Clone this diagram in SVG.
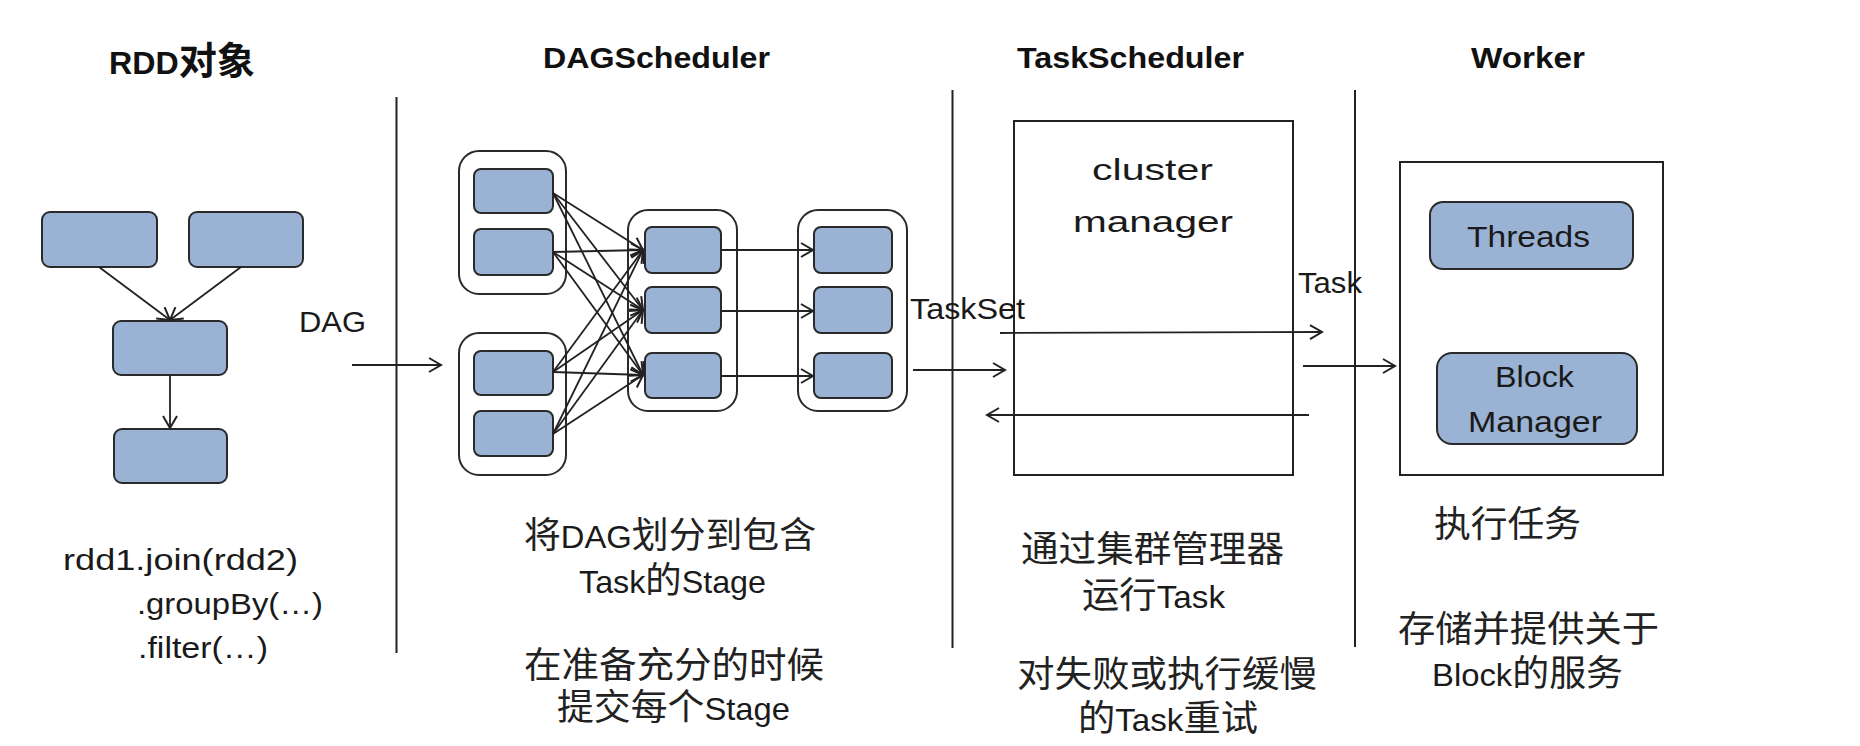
<svg xmlns="http://www.w3.org/2000/svg" width="1860" height="746" viewBox="0 0 1860 746">
<defs>
<marker id="arr" markerUnits="userSpaceOnUse" markerWidth="16" markerHeight="16" refX="13" refY="8" orient="auto">
<path d="M1,1 L13,8 L1,15" fill="none" stroke="#222" stroke-width="2"/>
</marker>
<style>
.bg{fill:#fff}
.blue{fill:#9ab2d4;stroke:#2a2a2a;stroke-width:2}
.grp{fill:#fff;stroke:#2a2a2a;stroke-width:2}
.frame{fill:#fff;stroke:#222;stroke-width:2}
.sep{stroke:#222;stroke-width:2;fill:none}
.con{stroke:#222;stroke-width:1.8;fill:none;marker-end:url(#arr)}
.hd{font-family:"Liberation Sans","Noto Sans CJK SC",sans-serif;font-weight:bold;font-size:30px;fill:#111}
.lb{font-family:"Liberation Sans",Arial,sans-serif;font-size:30px;fill:#1a1a1a}
.cj{font-family:"Liberation Sans","Noto Sans CJK SC",sans-serif;font-size:36px;fill:#222}
.la{font-size:32px;fill:#1a1a1a}
</style>
</defs>
<rect class="bg" x="0" y="0" width="1860" height="746"/>

<g id="separators">
<line class="sep" x1="396.5" y1="97" x2="396.5" y2="653"/>
<line class="sep" x1="952.5" y1="90" x2="952.5" y2="648"/>
<line class="sep" x1="1355" y1="90" x2="1355" y2="647"/>
</g>

<g id="headers">
<text class="hd" x="109" y="74" textLength="146" lengthAdjust="spacingAndGlyphs"><tspan font-size="32">RDD</tspan><tspan font-size="38">对象</tspan></text>
<text class="hd" x="543" y="68" textLength="227" lengthAdjust="spacingAndGlyphs">DAGScheduler</text>
<text class="hd" x="1017" y="68" textLength="227" lengthAdjust="spacingAndGlyphs">TaskScheduler</text>
<text class="hd" x="1471" y="68" textLength="114" lengthAdjust="spacingAndGlyphs">Worker</text>
</g>

<g id="rdd-a"><rect class="blue" x="42" y="212" width="115" height="55" rx="8"/></g>
<g id="rdd-b"><rect class="blue" x="189" y="212" width="114" height="55" rx="8"/></g>
<g id="rdd-c"><rect class="blue" x="113" y="321" width="114" height="54" rx="8"/></g>
<g id="rdd-d"><rect class="blue" x="114" y="429" width="113" height="54" rx="8"/></g>

<g id="rdd-code">
<text class="lb" x="63" y="570" font-size="31" textLength="235" lengthAdjust="spacingAndGlyphs">rdd1.join(rdd2)</text>
<text class="lb" x="137" y="614" font-size="31" textLength="186" lengthAdjust="spacingAndGlyphs">.groupBy(…)</text>
<text class="lb" x="138" y="658" font-size="31" textLength="130" lengthAdjust="spacingAndGlyphs">.filter(…)</text>
</g>

<g id="stage-1">
<rect class="grp" x="459" y="151" width="107" height="143" rx="20"/>
<rect class="blue" x="474" y="169" width="79" height="44" rx="7"/>
<rect class="blue" x="474" y="229" width="79" height="46" rx="7"/>
</g>
<g id="stage-2">
<rect class="grp" x="459" y="333" width="107" height="142" rx="20"/>
<rect class="blue" x="474" y="351" width="79" height="44" rx="7"/>
<rect class="blue" x="474" y="411" width="79" height="45" rx="7"/>
</g>
<g id="stage-3">
<rect class="grp" x="628" y="210" width="109" height="201" rx="20"/>
<rect class="blue" x="645" y="227" width="76" height="46" rx="7"/>
<rect class="blue" x="645" y="287" width="76" height="46" rx="7"/>
<rect class="blue" x="645" y="353" width="76" height="45" rx="7"/>
</g>
<g id="stage-4">
<rect class="grp" x="798" y="210" width="109" height="201" rx="20"/>
<rect class="blue" x="814" y="227" width="78" height="46" rx="7"/>
<rect class="blue" x="814" y="287" width="78" height="46" rx="7"/>
<rect class="blue" x="814" y="353" width="78" height="45" rx="7"/>
</g>

<g id="dag-text">
<text class="cj" x="524" y="548" textLength="292" lengthAdjust="spacingAndGlyphs">将<tspan class="la">DAG</tspan>划分到包含</text>
<text class="cj" x="579" y="593" textLength="187" lengthAdjust="spacingAndGlyphs"><tspan class="la">Task</tspan>的<tspan class="la">Stage</tspan></text>
<text class="cj" x="524" y="678" textLength="300" lengthAdjust="spacingAndGlyphs">在准备充分的时候</text>
<text class="cj" x="557" y="720" textLength="233" lengthAdjust="spacingAndGlyphs">提交每个<tspan class="la">Stage</tspan></text>
</g>

<g id="cluster-manager">
<rect class="frame" x="1014" y="121" width="279" height="354"/>
<text class="lb" x="1092" y="180" font-size="35" textLength="121" lengthAdjust="spacingAndGlyphs">cluster</text>
<text class="lb" x="1073" y="232" font-size="35" textLength="160" lengthAdjust="spacingAndGlyphs">manager</text>
</g>

<g id="task-text">
<text class="cj" x="1021" y="562" textLength="263" lengthAdjust="spacingAndGlyphs">通过集群管理器</text>
<text class="cj" x="1082" y="608" textLength="143" lengthAdjust="spacingAndGlyphs">运行<tspan class="la">Task</tspan></text>
<text class="cj" x="1017" y="687" textLength="300" lengthAdjust="spacingAndGlyphs">对失败或执行缓慢</text>
<text class="cj" x="1078" y="731" textLength="180" lengthAdjust="spacingAndGlyphs">的<tspan class="la">Task</tspan>重试</text>
</g>

<g id="worker">
<rect class="frame" x="1400" y="162" width="263" height="313"/>
</g>
<g id="threads">
<rect class="blue" x="1430" y="202" width="203" height="67" rx="13"/>
<text class="lb" x="1467" y="247" font-size="33" textLength="123" lengthAdjust="spacingAndGlyphs">Threads</text>
</g>
<g id="block-manager">
<rect class="blue" x="1437" y="353" width="200" height="91" rx="15"/>
<text class="lb" x="1495" y="387" font-size="32" textLength="79" lengthAdjust="spacingAndGlyphs">Block</text>
<text class="lb" x="1468" y="432" font-size="32" textLength="134" lengthAdjust="spacingAndGlyphs">Manager</text>
</g>

<g id="worker-text">
<text class="cj" x="1434" y="537" textLength="147" lengthAdjust="spacingAndGlyphs">执行任务</text>
<text class="cj" x="1398" y="642" textLength="261" lengthAdjust="spacingAndGlyphs">存储并提供关于</text>
<text class="cj" x="1432" y="686" textLength="191" lengthAdjust="spacingAndGlyphs"><tspan class="la">Block</tspan>的服务</text>
</g>

<g id="connectors">
<line class="con" x1="99" y1="267" x2="170" y2="320"/>
<line class="con" x1="241" y1="267" x2="170" y2="320"/>
<line class="con" x1="170" y1="375" x2="170" y2="428"/>
<line class="con" x1="352" y1="365" x2="441" y2="365"/>
<line class="con" x1="553" y1="193" x2="643" y2="250"/>
<line class="con" x1="553" y1="193" x2="643" y2="310"/>
<line class="con" x1="553" y1="193" x2="643" y2="375"/>
<line class="con" x1="553" y1="252" x2="643" y2="250"/>
<line class="con" x1="553" y1="252" x2="643" y2="310"/>
<line class="con" x1="553" y1="252" x2="643" y2="375"/>
<line class="con" x1="553" y1="372" x2="643" y2="250"/>
<line class="con" x1="553" y1="372" x2="643" y2="310"/>
<line class="con" x1="553" y1="372" x2="643" y2="375"/>
<line class="con" x1="553" y1="434" x2="643" y2="250"/>
<line class="con" x1="553" y1="434" x2="643" y2="310"/>
<line class="con" x1="553" y1="434" x2="643" y2="375"/>
<line class="con" x1="721" y1="250" x2="813" y2="250"/>
<line class="con" x1="721" y1="311" x2="813" y2="311"/>
<line class="con" x1="721" y1="376" x2="813" y2="376"/>
<line class="con" x1="913" y1="370" x2="1005" y2="370"/>
<line class="con" x1="1000" y1="333" x2="1322" y2="332"/>
<line class="con" x1="1309" y1="415" x2="987" y2="415"/>
<line class="con" x1="1303" y1="366" x2="1395" y2="366"/>
</g>

<g id="edge-labels">
<text class="lb" x="299" y="332" font-size="31" textLength="67" lengthAdjust="spacingAndGlyphs">DAG</text>
<text class="lb" x="910" y="319" textLength="115" lengthAdjust="spacingAndGlyphs">TaskSet</text>
<text class="lb" x="1298" y="293" textLength="64" lengthAdjust="spacingAndGlyphs">Task</text>
</g>
</svg>
